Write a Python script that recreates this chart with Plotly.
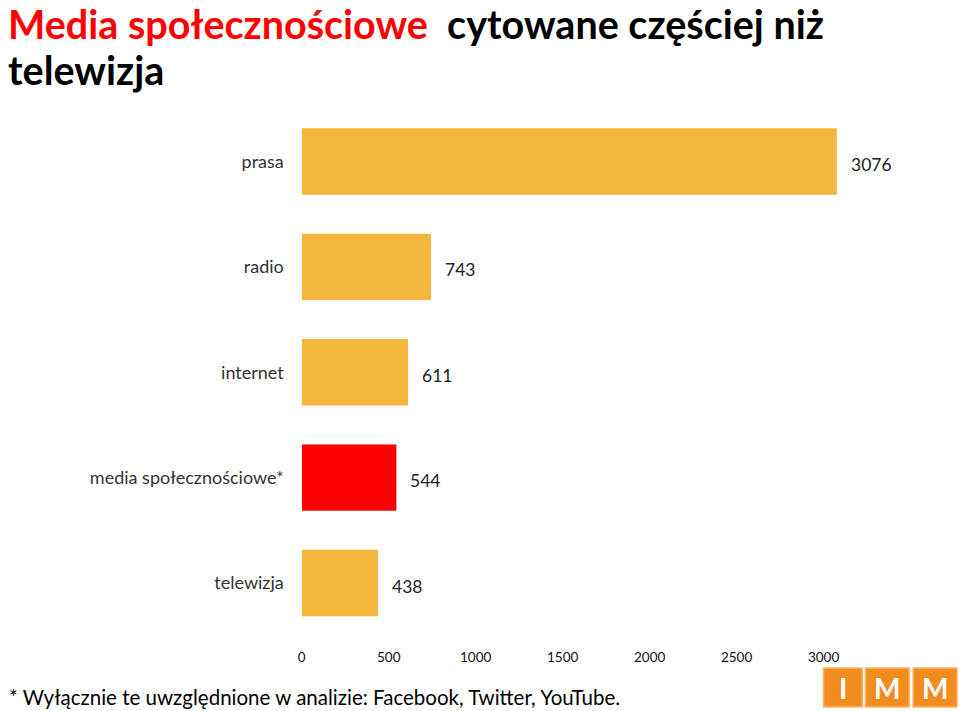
import plotly.graph_objects as go

categories = ["prasa", "radio", "internet", "media społecznościowe*", "telewizja"]
values = [3076, 743, 611, 544, 438]
colors = ["#F4B63B", "#F4B63B", "#F4B63B", "#FF0000", "#F4B63B"]
tick_vals = [0, 500, 1000, 1500, 2000, 2500, 3000]

W, H = 959, 711
x0_px, x3000_px = 299, 823
ppu = (x3000_px - x0_px) / 3000
xmax = (W - x0_px) / ppu

fig = go.Figure(go.Bar(
    x=values, y=categories, orientation="h",
    marker=dict(color=colors, line=dict(width=0)),
    width=0.63, hoverinfo="skip",
))

for c, v in zip(categories, values):
    fig.add_annotation(x=v, y=c, xref="x", yref="y", text=str(v), showarrow=False,
                       xanchor="left", yanchor="middle", xshift=12, yshift=-3,
                       font=dict(family="Lato", size=17.5, color="#222"))

top_px, bot_px = 108.8, 635.7
fig.update_layout(
    width=W, height=H, margin=dict(l=0, r=0, t=0, b=0),
    paper_bgcolor="white", plot_bgcolor="white", showlegend=False,
    xaxis=dict(domain=[x0_px / W, 1], range=[0, xmax], tickvals=tick_vals,
               showgrid=False, zeroline=False, showline=False, ticks="",
               tickfont=dict(family="Lato", size=13.5, color="#111"),
               ticklabelstandoff=12),
    yaxis=dict(domain=[(H - bot_px) / H, (H - top_px) / H], autorange="reversed",
               showgrid=False, zeroline=False, showline=False, ticks="",
               tickfont=dict(family="Lato", size=18, color="#333"),
               ticklabelstandoff=17),
)

# Title
fig.add_annotation(xref="paper", yref="paper", x=0, y=1, xanchor="left", yanchor="top",
                   xshift=2, yshift=2, showarrow=False, align="left",
                   text="<b><span style='color:#FF0000'>Media społecznościowe</span>"
                        "  cytowane częściej niż</b>",
                   font=dict(family="Lato", size=39.5, color="#000"))
fig.add_annotation(xref="paper", yref="paper", x=0, y=1, xanchor="left", yanchor="top",
                   xshift=2, yshift=-44, showarrow=False, align="left",
                   text="<b>telewizja</b>",
                   font=dict(family="Lato", size=39.5, color="#000"))

# Footnote
fig.add_annotation(xref="paper", yref="paper", x=0, y=0, xanchor="left", yanchor="bottom",
                   xshift=3, yshift=0, showarrow=False,
                   text="* Wyłącznie te uwzględnione w analizie: Facebook, Twitter, YouTube.",
                   font=dict(family="Lato", size=20.5, color="#000"))

# Logo
boxes = [(823, 862, "I"), (865, 909, "M"), (913, 957, "M")]
for xa, xb, letter in boxes:
    fig.add_shape(type="rect", xref="paper", yref="paper", layer="below",
                  x0=xa / W, x1=xb / W, y0=(H - 707) / H, y1=(H - 668) / H,
                  fillcolor="#F28C1E", line=dict(color="#F7B46A", width=1.5))
    fig.add_annotation(xref="paper", yref="paper", x=(xa + xb) / 2 / W, y=(H - 687.5) / H,
                       xanchor="center", yanchor="middle",
                       text=f"<b>{letter}</b>", showarrow=False,
                       font=dict(family="Lato", size=28, color="white"))

fig.write_html("out.html")
